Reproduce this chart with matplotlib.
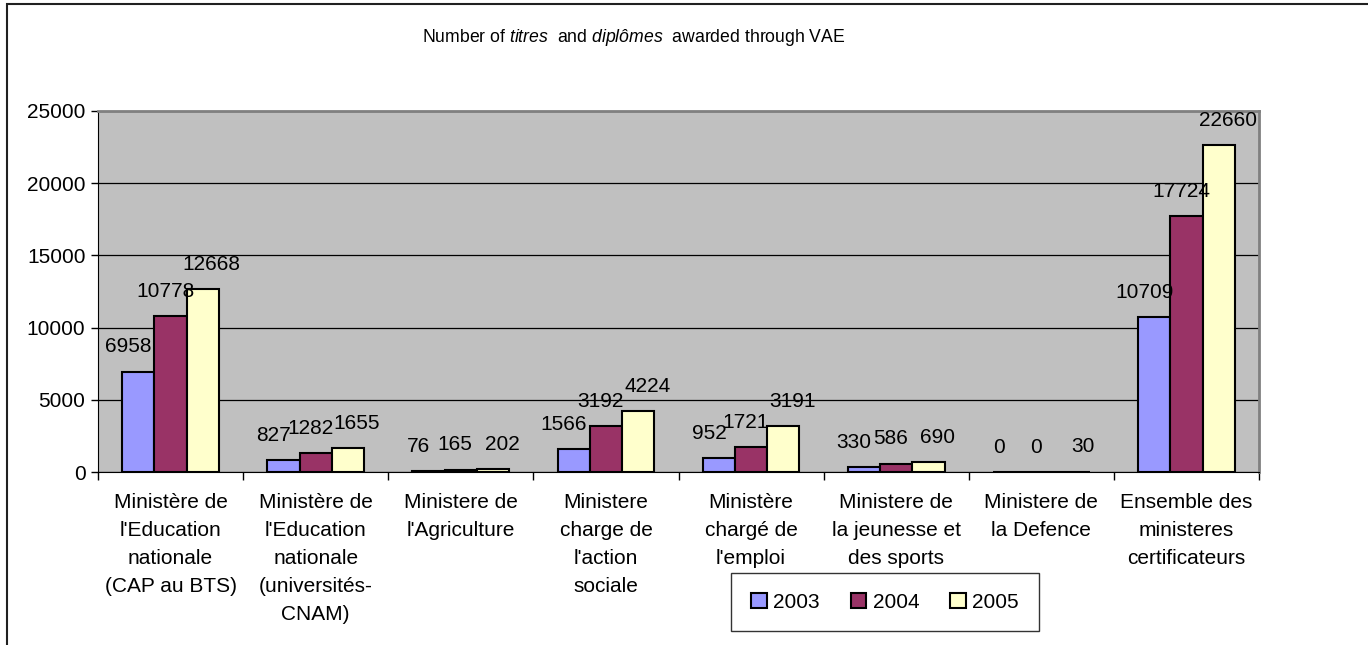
import numpy as np
import matplotlib
matplotlib.use('Agg')
import matplotlib.pyplot as plt
from matplotlib.patches import Rectangle

plt.rcParams['font.family'] = ['Liberation Sans', 'DejaVu Sans']
plt.rcParams['mathtext.fontset'] = 'custom'
plt.rcParams['mathtext.it'] = 'Liberation Sans:italic'
plt.rcParams['mathtext.rm'] = 'Liberation Sans'

# Data
categories = [
    "Ministère de\nl'Education\nnationale\n(CAP au BTS)",
    "Ministère de\nl'Education\nnationale\n(universités-\nCNAM)",
    "Ministere de\nl'Agriculture",
    "Ministere\ncharge de\nl'action\nsociale",
    "Ministère\nchargé de\nl'emploi",
    "Ministere de\nla jeunesse et\ndes sports",
    "Ministere de\nla Defence",
    "Ensemble des\nministeres\ncertificateurs",
]
years = ['2003', '2004', '2005']
values_2003 = [6958, 827, 76, 1566, 952, 330, 0, 10709]
values_2004 = [10778, 1282, 165, 3192, 1721, 586, 0, 17724]
values_2005 = [12668, 1655, 202, 4224, 3191, 690, 30, 22660]
y_ticks = [0, 5000, 10000, 15000, 20000, 25000]

colors = ['#9999FF', '#993366', '#FFFFCC']
label_shift = [-7, -4, 6.5]  # horizontal nudge of value labels, in points

fig = plt.figure(figsize=(13.68, 6.45), dpi=100)
ax = fig.add_axes([98 / 1368, 1 - 472 / 645, (1259 - 98) / 1368, (472 - 111) / 645])
ax.set_facecolor('#C0C0C0')

# outer chart border (extends past the right and bottom edges)
fig.patches.append(Rectangle((7 / 1368, -0.1), 1.2, 1 - 4 / 645 + 0.1,
                             transform=fig.transFigure, fill=False,
                             edgecolor='#202020', linewidth=1.5))

x = np.arange(len(categories))
width = 0.222
series = [values_2003, values_2004, values_2005]
bars = []
for i, (vals, col) in enumerate(zip(series, colors)):
    b = ax.bar(x + (i - 1) * width, vals, width, color=col, edgecolor='black',
               linewidth=1.5, label=years[i], zorder=3)
    bars.append(b)
    for rect, v in zip(b, vals):
        ax.annotate(str(v), (rect.get_x() + rect.get_width() / 2, rect.get_height()),
                    xytext=(label_shift[i], 11), textcoords='offset points',
                    ha='center', va='bottom', fontsize=15, zorder=4)

ax.set_xlim(-0.5, len(categories) - 0.5)
ax.set_ylim(0, 25000)
ax.set_yticks(y_ticks)
ax.yaxis.grid(True, color='black', linewidth=0.9, zorder=0)
ax.set_axisbelow(True)
ax.tick_params(axis='y', labelsize=15, direction='out', length=5, width=1, pad=4)

# category boundaries as ticks, labels in between
ax.set_xticks(np.arange(len(categories) + 1) - 0.5)
ax.set_xticklabels([])
ax.set_xticks(x, minor=True)
ax.set_xticklabels(categories, minor=True, fontsize=15, linespacing=1.6)
ax.tick_params(axis='x', which='major', direction='out', length=6, width=1)
ax.tick_params(axis='x', which='minor', length=0, pad=15)

for side in ['top', 'right']:
    ax.spines[side].set_color('#808080')
    ax.spines[side].set_linewidth(2)
ax.spines['left'].set_color('black')
ax.spines['bottom'].set_color('black')

fig.text(634 / 1368, 1 - 38 / 645,
         r'Number of $\it{titres}$  and $\it{diplômes}$  awarded through VAE',
         ha='center', va='center', fontsize=12.7)

leg = fig.legend(handles=bars, labels=years, loc='center',
                 bbox_to_anchor=(885 / 1368, 1 - 602 / 645), ncol=3,
                 fontsize=15, frameon=True, fancybox=False, edgecolor='black',
                 handlelength=0.75, handleheight=0.75, handletextpad=0.3,
                 columnspacing=1.5, borderpad=0.95, borderaxespad=0)
leg.get_frame().set_linewidth(1)

fig.savefig('out.png', dpi=100)
